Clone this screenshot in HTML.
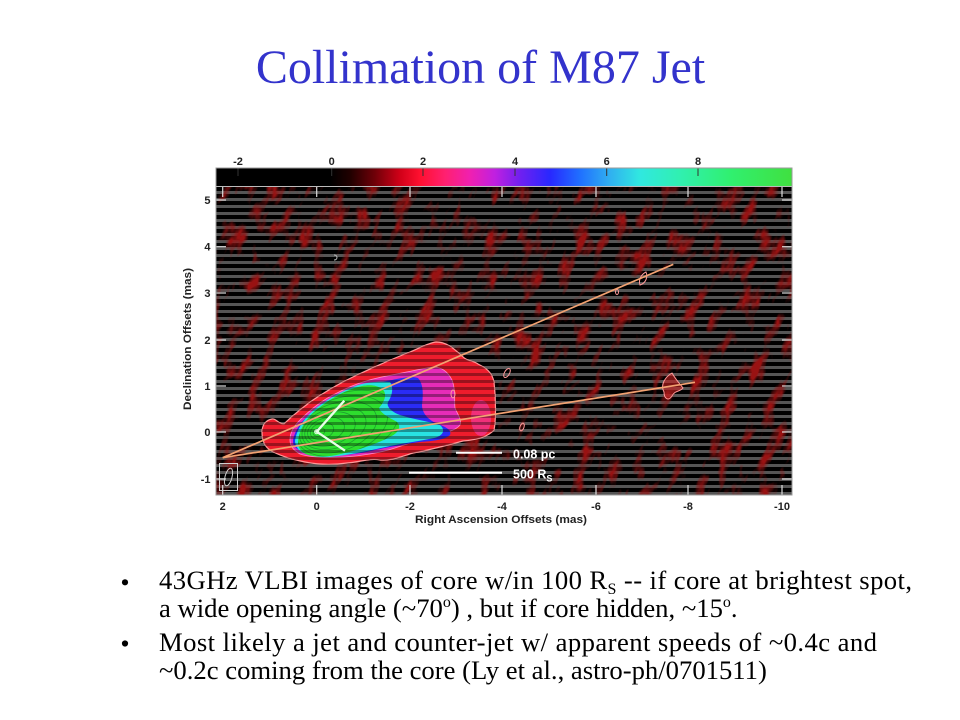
<!DOCTYPE html>
<html>
<head>
<meta charset="utf-8">
<style>
  html,body{margin:0;padding:0;background:#fff;width:960px;height:720px;overflow:hidden;}
  svg{display:block;}
  .ax{font-family:"Liberation Sans",Arial,sans-serif;font-weight:bold;font-size:11px;fill:#222;}
  .sc{font-family:"Liberation Sans",Arial,sans-serif;font-weight:bold;font-size:12.5px;fill:#fff;}
  .tt{font-family:"Liberation Serif","Times New Roman",serif;font-size:48px;fill:#3333cc;}
  .bt{font-family:"Liberation Serif","Times New Roman",serif;font-size:26.67px;fill:#000;}
</style>
</head>
<body>
<svg width="960" height="720" viewBox="0 0 960 720" xmlns="http://www.w3.org/2000/svg" overflow="hidden">
<defs>
  <linearGradient id="cb" x1="216" y1="0" x2="792" y2="0" gradientUnits="userSpaceOnUse">
    <stop offset="0" stop-color="#000"/>
    <stop offset="0.198" stop-color="#000"/>
    <stop offset="0.233" stop-color="#200000"/>
    <stop offset="0.276" stop-color="#700008"/>
    <stop offset="0.319" stop-color="#d00018"/>
    <stop offset="0.354" stop-color="#ff1030"/>
    <stop offset="0.398" stop-color="#ff2070"/>
    <stop offset="0.441" stop-color="#f020b0"/>
    <stop offset="0.484" stop-color="#c020e0"/>
    <stop offset="0.528" stop-color="#7020f0"/>
    <stop offset="0.580" stop-color="#2828ff"/>
    <stop offset="0.632" stop-color="#2070ff"/>
    <stop offset="0.684" stop-color="#30b0f0"/>
    <stop offset="0.736" stop-color="#30e8e0"/>
    <stop offset="0.806" stop-color="#30f0b0"/>
    <stop offset="0.892" stop-color="#30f070"/>
    <stop offset="1" stop-color="#40e040"/>
  </linearGradient>
  <clipPath id="pc"><rect x="216" y="187" width="576" height="308"/></clipPath>
  <filter id="nz" x="179" y="96" width="650" height="490" filterUnits="userSpaceOnUse" color-interpolation-filters="sRGB">
    <feTurbulence type="fractalNoise" baseFrequency="0.075 0.034" numOctaves="3" seed="11"/>
    <feColorMatrix type="matrix" values="0 0 0 0 0.6  0 0 0 0 0.07  0 0 0 0 0.07  3.4 0 0 0 -1.73"/>
  </filter>
  <pattern id="st" x="0" y="191" width="40" height="7" patternUnits="userSpaceOnUse">
    <rect x="0" y="0" width="40" height="3" fill="#555"/>
  </pattern>
  <pattern id="st2" x="0" y="191" width="40" height="7" patternUnits="userSpaceOnUse">
    <rect x="0" y="0" width="40" height="3" fill="#000" fill-opacity="0.35"/>
  </pattern>
  <clipPath id="jc">
    <path d="M262,432 C262,425 266,420 272,419 C276,418 278,424 284,424 C292,416 302,408 313,400 C325,392 340,383 355,376 C372,368 392,359 410,352 C420,348 428,343 436,342 C448,342 455,350 462,356 C468,362 472,360 478,364 C486,368 492,372 494,382 C496,400 496,420 494,430 C488,437 475,440 463,441 C448,445 430,450 413,453 C400,457 390,461 380,460 C370,458 360,462 347,463 C333,465 320,465 305,462 C290,459 278,455 270,450 C264,446 262,440 262,432 Z"/>
  </clipPath>
  <clipPath id="gc">
    <path d="M298,442 C299,428 308,416 320,407 C333,397 348,389 362,386 C372,384 380,386 384,391 C387,397 383,403 379,408 C381,414 390,418 397,422 C402,427 398,433 390,437 C378,443 362,449 345,453 C330,457 315,458 306,454 C300,451 298,447 298,442 Z"/>
  </clipPath>
</defs>

<rect width="960" height="720" fill="#fff"/>

<!-- Title -->
<text class="tt" x="480.5" y="83" text-anchor="middle">Collimation of M87 Jet</text>

<!-- Colorbar -->
<rect x="216" y="168" width="576" height="18" fill="url(#cb)"/>
<g stroke="#333" stroke-width="1">
  <line x1="238" y1="168" x2="238" y2="176"/>
  <line x1="331.7" y1="168" x2="331.7" y2="176"/>
  <line x1="423" y1="168" x2="423" y2="176"/>
  <line x1="515" y1="168" x2="515" y2="176"/>
  <line x1="606.7" y1="168" x2="606.7" y2="176"/>
  <line x1="698" y1="168" x2="698" y2="176"/>
</g>
<g class="ax" text-anchor="middle">
  <text x="238" y="165">-2</text>
  <text x="331.7" y="165">0</text>
  <text x="423" y="165">2</text>
  <text x="515" y="165">4</text>
  <text x="606.7" y="165">6</text>
  <text x="698" y="165">8</text>
</g>

<!-- Plot -->
<rect x="216" y="187" width="576" height="308" fill="#000"/>
<g clip-path="url(#pc)">
  <rect x="216" y="187" width="576" height="308" fill="url(#st)"/>
  <g transform="rotate(20 504 341)">
    <rect x="179" y="96" width="650" height="490" filter="url(#nz)"/>
  </g>

  <!-- Jet layers -->
  <path fill="#ee1c2c" stroke="#ff9a9a" stroke-width="1.2" d="M262,432 C262,425 266,420 272,419 C276,418 278,424 284,424 C292,416 302,408 313,400 C325,392 340,383 355,376 C372,368 392,359 410,352 C420,348 428,343 436,342 C448,342 455,350 462,356 C468,362 472,360 478,364 C486,368 492,372 494,382 C496,400 496,420 494,430 C488,437 475,440 463,441 C448,445 430,450 413,453 C400,457 390,461 380,460 C370,458 360,462 347,463 C333,465 320,465 305,462 C290,459 278,455 270,450 C264,446 262,440 262,432 Z"/>
  <ellipse cx="481" cy="418" rx="10" ry="18" fill="#f0307a"/>
  <path fill="#e62cb8" stroke="#ff90c8" stroke-width="0.8" d="M290,440 C290,432 294,426 300,420 C310,410 322,400 337,393 C352,385 370,379 387,376 C402,373 420,369 433,367 C442,367 448,372 452,380 C456,390 454,400 455,408 C458,415 462,420 460,425 C456,430 448,432 440,434 C425,438 410,443 395,448 C380,453 360,456 345,457 C328,458 312,458 300,454 C293,450 290,446 290,440 Z"/>
  <path fill="#2a2cf6" d="M293,440 C295,430 302,420 312,412 C325,402 340,394 355,389 C368,385 380,382 392,380 C402,378 412,376 418,378 C424,385 423,395 422,405 C422,413 428,420 438,424 C446,427 452,430 450,435 C445,440 432,441 420,442 C405,444 390,447 375,450 C360,454 340,456 325,456 C310,456 300,452 295,447 C293,445 293,442 293,440 Z"/>
  <path fill="#28e2e2" d="M295,441 C297,428 305,417 316,408 C329,398 344,390 358,385 C368,382 380,381 390,382 C394,388 392,396 388,402 C386,407 392,412 400,415 C412,419 427,421 440,425 C446,430 443,436 434,438 C420,441 405,443 390,446 C372,450 350,455 330,457 C314,458 302,454 298,449 C296,446 295,443 295,441 Z"/>
  <path fill="#2ede2e" d="M298,442 C299,428 308,416 320,407 C333,397 348,389 362,386 C372,384 380,386 384,391 C387,397 383,403 379,408 C381,414 390,418 397,422 C402,427 398,433 390,437 C378,443 362,449 345,453 C330,457 315,458 306,454 C300,451 298,447 298,442 Z"/>
  <g clip-path="url(#gc)" fill="none" stroke="#1a8a32" stroke-width="0.8" stroke-opacity="0.75">
    <ellipse cx="319" cy="432" rx="6" ry="4" transform="rotate(-18 319 432)"/>
    <ellipse cx="322" cy="431" rx="12" ry="8" transform="rotate(-18 322 431)"/>
    <ellipse cx="326" cy="430" rx="19" ry="12" transform="rotate(-18 326 430)"/>
    <ellipse cx="330" cy="429" rx="26" ry="16" transform="rotate(-18 330 429)"/>
    <ellipse cx="334" cy="428" rx="33" ry="20" transform="rotate(-18 334 428)"/>
    <ellipse cx="338" cy="427" rx="40" ry="24" transform="rotate(-18 338 427)"/>
    <ellipse cx="342" cy="426" rx="47" ry="28" transform="rotate(-18 342 426)"/>
    <ellipse cx="346" cy="425" rx="54" ry="32" transform="rotate(-18 346 425)"/>
  </g>
  <rect x="216" y="187" width="576" height="308" fill="url(#st2)" clip-path="url(#jc)"/>

  <!-- small contour islands -->
  <g fill="none" stroke="#ff9a9a" stroke-width="1">
    <ellipse cx="453" cy="394" rx="2" ry="4"/>
    <ellipse cx="507" cy="373" rx="2.5" ry="5" transform="rotate(30 507 373)"/>
    <ellipse cx="522" cy="427" rx="2" ry="4" transform="rotate(20 522 427)"/>
    <path fill="#c82020" fill-opacity="0.6" d="M664,392 C660,385 665,377 672,373 C676,380 680,384 683,388 C680,392 675,390 672,396 C668,402 664,398 664,392 Z"/>
    <path d="M640,285 C638,279 642,274 646,272 C648,277 646,283 640,285 Z"/>
    <ellipse cx="617" cy="292" rx="1.5" ry="2.5"/>
  </g>

  <!-- Orange opening lines -->
  <g stroke="#f2a272" stroke-width="1.7" fill="none">
    <line x1="222.7" y1="457.7" x2="673.3" y2="264.3"/>
    <line x1="222.7" y1="457.7" x2="695" y2="382.3"/>
  </g>
  <!-- White V -->
  <polyline points="344.3,400.7 316.7,431.7 345,450.7" fill="none" stroke="#e8ffe8" stroke-width="2.3"/>
  <circle cx="316.7" cy="431.7" r="2" fill="none" stroke="#e8ffe8" stroke-width="1"/>

  <!-- tiny mark -->
  <path d="M334,255 C338,255 338,260 334,260" fill="none" stroke="#bbb" stroke-width="1"/>

  <!-- Scale bars -->
  <line x1="456" y1="452.7" x2="502" y2="452.7" stroke="#fff" stroke-width="2"/>
  <line x1="409" y1="472.7" x2="502" y2="472.7" stroke="#fff" stroke-width="2"/>
  <text class="sc" x="513" y="458.5">0.08 pc</text>
  <text class="sc" x="513" y="478.5">500 R<tspan font-size="9" dy="3">S</tspan></text>

  <!-- Beam -->
  <rect x="219.5" y="463.5" width="18" height="27" fill="none" stroke="#cfcfcf" stroke-width="1"/>
  <ellipse cx="228.5" cy="477" rx="3.5" ry="9" transform="rotate(15 228.5 477)" fill="none" stroke="#cfcfcf" stroke-width="1"/>

  <!-- ticks -->
  <g stroke="#ddd" stroke-width="1.2">
    <line x1="216" y1="200" x2="226" y2="200"/>
    <line x1="216" y1="246.7" x2="226" y2="246.7"/>
    <line x1="216" y1="293" x2="226" y2="293"/>
    <line x1="216" y1="340" x2="226" y2="340"/>
    <line x1="216" y1="386" x2="226" y2="386"/>
    <line x1="216" y1="432" x2="226" y2="432"/>
    <line x1="216" y1="479" x2="226" y2="479"/>
    <line x1="782" y1="200" x2="792" y2="200"/>
    <line x1="782" y1="246.7" x2="792" y2="246.7"/>
    <line x1="782" y1="293" x2="792" y2="293"/>
    <line x1="782" y1="340" x2="792" y2="340"/>
    <line x1="782" y1="386" x2="792" y2="386"/>
    <line x1="782" y1="432" x2="792" y2="432"/>
    <line x1="782" y1="479" x2="792" y2="479"/>
    <line x1="222.7" y1="187" x2="222.7" y2="197"/>
    <line x1="316.7" y1="187" x2="316.7" y2="197"/>
    <line x1="410" y1="187" x2="410" y2="197"/>
    <line x1="502" y1="187" x2="502" y2="197"/>
    <line x1="596" y1="187" x2="596" y2="197"/>
    <line x1="688" y1="187" x2="688" y2="197"/>
    <line x1="782" y1="187" x2="782" y2="197"/>
    <line x1="222.7" y1="485" x2="222.7" y2="495"/>
    <line x1="316.7" y1="485" x2="316.7" y2="495"/>
    <line x1="410" y1="485" x2="410" y2="495"/>
    <line x1="502" y1="485" x2="502" y2="495"/>
    <line x1="596" y1="485" x2="596" y2="495"/>
    <line x1="688" y1="485" x2="688" y2="495"/>
    <line x1="782" y1="485" x2="782" y2="495"/>
  </g>
</g>
<rect x="216" y="168" width="576" height="327" fill="none" stroke="#9a9a9a" stroke-width="1"/>
<line x1="216" y1="186.5" x2="792" y2="186.5" stroke="#bbb" stroke-width="1"/>

<!-- Axis tick labels -->
<g class="ax" text-anchor="end">
  <text x="210.5" y="204">5</text>
  <text x="210.5" y="250.7">4</text>
  <text x="210.5" y="297">3</text>
  <text x="210.5" y="344">2</text>
  <text x="210.5" y="390">1</text>
  <text x="210.5" y="436">0</text>
  <text x="210.5" y="483">-1</text>
</g>
<g class="ax" text-anchor="middle">
  <text x="222.7" y="510">2</text>
  <text x="316.7" y="510">0</text>
  <text x="410" y="510">-2</text>
  <text x="502" y="510">-4</text>
  <text x="596" y="510">-6</text>
  <text x="688" y="510">-8</text>
  <text x="782" y="510">-10</text>
</g>
<text class="ax" x="501" y="523" text-anchor="middle" textLength="172" lengthAdjust="spacingAndGlyphs">Right Ascension Offsets (mas)</text>
<text class="ax" transform="translate(191 339) rotate(-90)" x="0" y="0" text-anchor="middle" textLength="142" lengthAdjust="spacingAndGlyphs">Declination Offsets (mas)</text>

<!-- Bullets -->
<circle cx="125" cy="582.3" r="3.1" fill="#000"/>
<circle cx="125" cy="643.5" r="3.1" fill="#000"/>
<text class="bt" x="159" y="589" textLength="753">43GHz VLBI images of core w/in 100 R<tspan font-size="16" dy="5">S</tspan><tspan dy="-5"> -- if core at brightest spot,</tspan></text>
<text class="bt" x="159" y="617">a wide opening angle (~70<tspan font-size="16" dy="-10">o</tspan><tspan dy="10">) , but if core hidden, ~15</tspan><tspan font-size="16" dy="-10">o</tspan><tspan dy="10">.</tspan></text>
<text class="bt" x="159" y="651" textLength="718">Most likely a jet and counter-jet w/ apparent speeds of ~0.4c and</text>
<text class="bt" x="159" y="679">~0.2c coming from the core (Ly et al., astro-ph/0701511)</text>
</svg>
</body>
</html>
